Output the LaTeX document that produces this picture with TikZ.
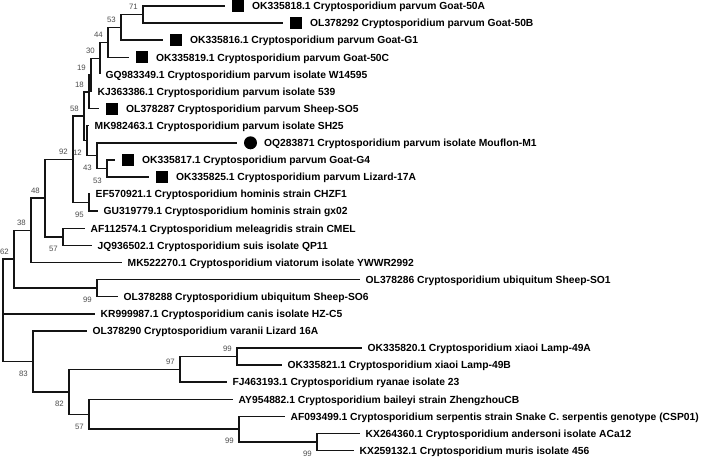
\documentclass[tikz,border=0pt]{standalone}
\usepackage{fontspec}
\setmainfont{Liberation Sans}
\begin{document}
\begin{tikzpicture}[x=1pt,y=-1pt,
  br/.style={line width=1.5pt, draw=black!92},
  lab/.style={font=\bfseries\fontsize{10.3}{12}\selectfont, anchor=base west, inner sep=0pt, yshift=-3.7pt},
  txt/.style={lab, xshift=5.5pt},
  txtm/.style={lab, xshift=27pt},
  bs/.style={font=\fontsize{7.8}{9}\selectfont, text=black!70, inner sep=0pt, anchor=base east, xshift=-5pt},
  bsa/.style={bs, yshift=4.8pt},
  bsb/.style={bs, yshift=-14.7pt},
  sq/.style={fill=black, minimum size=12pt, inner sep=0pt, draw=none, xshift=13pt},
  dot/.style={circle, fill=black, minimum size=13pt, inner sep=0pt, draw=none, xshift=13.5pt}]
\useasboundingbox (0,0) rectangle (708,460);
% internal nodes
\coordinate (n71) at (143,14.55);
\coordinate (n53) at (121,27.4);
\coordinate (n44) at (108,42.3);
\coordinate (n30) at (100,58.4);
\coordinate (n19) at (91,74.9);
\coordinate (n18) at (89,91.8);
\coordinate (n58) at (84,116.2);
\coordinate (n12) at (87,140.7);
\coordinate (n43) at (97,155.6);
\coordinate (n53b) at (107,168.5);
\coordinate (n92) at (73,159.4);
\coordinate (n95) at (89,202.7);
\coordinate (n57) at (63,236.9);
\coordinate (n48) at (45,198.1);
\coordinate (n38) at (31,230.3);
\coordinate (n99u) at (97,288.2);
\coordinate (n62) at (14,259.2);
\coordinate (root) at (3,310.3);
\coordinate (n83) at (33,361.4);
\coordinate (n82) at (69,391.8);
\coordinate (n97) at (180,369.4);
\coordinate (n99x) at (237,356.6);
\coordinate (n57b) at (89,414.3);
\coordinate (n99s) at (239,429.2);
\coordinate (n99am) at (317,442);
% leaves
\coordinate (l1) at (225,6);
\coordinate (l2) at (283,23.1);
\coordinate (l3) at (163,40.2);
\coordinate (l4) at (129,57.3);
\coordinate (l5) at (100,74.4);
\coordinate (l6) at (92,91.5);
\coordinate (l7) at (99,108.6);
\coordinate (l8) at (89,125.7);
\coordinate (l9) at (237,142.8);
\coordinate (l10) at (115,159.9);
\coordinate (l11) at (149,177);
\coordinate (l12) at (90,194.1);
\coordinate (l13) at (98,211.2);
\coordinate (l14) at (85,228.3);
\coordinate (l15) at (92,245.4);
\coordinate (l16) at (122,262.5);
\coordinate (l17) at (360,279.6);
\coordinate (l18) at (118,296.7);
\coordinate (l19) at (95,313.8);
\coordinate (l20) at (87,330.9);
\coordinate (l21) at (362,348);
\coordinate (l22) at (282,365.1);
\coordinate (l23) at (227,382.2);
\coordinate (l24) at (233,399.3);
\coordinate (l25) at (285,416.4);
\coordinate (l26) at (360,433.5);
\coordinate (l27) at (354,450.6);
% branches
\draw[br] (n71) |- (l1);
\draw[br] (n71) |- (l2);
\draw[br] (n53) |- (n71);
\draw[br] (n53) |- (l3);
\draw[br] (n44) |- (n53);
\draw[br] (n44) |- (l4);
\draw[br] (n30) |- (n44);
\draw[br] (n30) |- (l5);
\draw[br] (n19) |- (n30);
\draw[br] (n19) |- (l6);
\draw[br] (n18) |- (n19);
\draw[br] (n18) |- (l7);
\draw[br] (n58) |- (n18);
\draw[br] (n58) |- (n12);
\draw[br] (n12) |- (l8);
\draw[br] (n12) |- (n43);
\draw[br] (n43) |- (l9);
\draw[br] (n43) |- (n53b);
\draw[br] (n53b) |- (l10);
\draw[br] (n53b) |- (l11);
\draw[br] (n92) |- (n58);
\draw[br] (n92) |- (n95);
\draw[br] (n95) |- (l12);
\draw[br] (n95) |- (l13);
\draw[br] (n48) |- (n92);
\draw[br] (n48) |- (n57);
\draw[br] (n57) |- (l14);
\draw[br] (n57) |- (l15);
\draw[br] (n38) |- (n48);
\draw[br] (n38) |- (l16);
\draw[br] (n62) |- (n38);
\draw[br] (n62) |- (n99u);
\draw[br] (n99u) |- (l17);
\draw[br] (n99u) |- (l18);
\draw[br] (root) |- (n62);
\draw[br] (root) |- (l19);
\draw[br] (root) |- (n83);
\draw[br] (n83) |- (l20);
\draw[br] (n83) |- (n82);
\draw[br] (n82) |- (n97);
\draw[br] (n82) |- (n57b);
\draw[br] (n97) |- (n99x);
\draw[br] (n97) |- (l23);
\draw[br] (n99x) |- (l21);
\draw[br] (n99x) |- (l22);
\draw[br] (n57b) |- (l24);
\draw[br] (n57b) |- (n99s);
\draw[br] (n99s) |- (l25);
\draw[br] (n99s) |- (n99am);
\draw[br] (n99am) |- (l26);
\draw[br] (n99am) |- (l27);
% markers
\node[sq] (m1) at (l1) {};
\node[sq] (m2) at (l2) {};
\node[sq] (m3) at (l3) {};
\node[sq] (m4) at (l4) {};
\node[sq] (m7) at (l7) {};
\node[dot] (m9) at (l9) {};
\node[sq] (m10) at (l10) {};
\node[sq] (m11) at (l11) {};
% leaf labels
\node[txtm] (t1) at (l1) {OK335818.1 Cryptosporidium parvum Goat-50A};
\node[txtm] (t2) at (l2) {OL378292 Cryptosporidium parvum Goat-50B};
\node[txtm] (t3) at (l3) {OK335816.1 Cryptosporidium parvum Goat-G1};
\node[txtm] (t4) at (l4) {OK335819.1 Cryptosporidium parvum Goat-50C};
\node[txt] (t5) at (l5) {GQ983349.1 Cryptosporidium parvum isolate W14595};
\node[txt] (t6) at (l6) {KJ363386.1 Cryptosporidium parvum isolate 539};
\node[txtm] (t7) at (l7) {OL378287 Cryptosporidium parvum Sheep-SO5};
\node[txt] (t8) at (l8) {MK982463.1 Cryptosporidium parvum isolate SH25};
\node[txtm] (t9) at (l9) {OQ283871 Cryptosporidium parvum isolate Mouflon-M1};
\node[txtm] (t10) at (l10) {OK335817.1 Cryptosporidium parvum Goat-G4};
\node[txtm] (t11) at (l11) {OK335825.1 Cryptosporidium parvum Lizard-17A};
\node[txt] (t12) at (l12) {EF570921.1 Cryptosporidium hominis strain CHZF1};
\node[txt] (t13) at (l13) {GU319779.1 Cryptosporidium hominis strain gx02};
\node[txt] (t14) at (l14) {AF112574.1 Cryptosporidium meleagridis strain CMEL};
\node[txt] (t15) at (l15) {JQ936502.1 Cryptosporidium suis isolate QP11};
\node[txt] (t16) at (l16) {MK522270.1 Cryptosporidium viatorum isolate YWWR2992};
\node[txt] (t17) at (l17) {OL378286 Cryptosporidium ubiquitum Sheep-SO1};
\node[txt] (t18) at (l18) {OL378288 Cryptosporidium ubiquitum Sheep-SO6};
\node[txt] (t19) at (l19) {KR999987.1 Cryptosporidium canis isolate HZ-C5};
\node[txt] (t20) at (l20) {OL378290 Cryptosporidium varanii Lizard 16A};
\node[txt] (t21) at (l21) {OK335820.1 Cryptosporidium xiaoi Lamp-49A};
\node[txt] (t22) at (l22) {OK335821.1 Cryptosporidium xiaoi Lamp-49B};
\node[txt] (t23) at (l23) {FJ463193.1 Cryptosporidium ryanae isolate 23};
\node[txt] (t24) at (l24) {AY954882.1 Cryptosporidium baileyi strain ZhengzhouCB};
\node[txt] (t25) at (l25) {AF093499.1 Cryptosporidium serpentis strain Snake C. serpentis genotype (CSP01)};
\node[txt] (t26) at (l26) {KX264360.1 Cryptosporidium andersoni isolate ACa12};
\node[txt] (t27) at (l27) {KX259132.1 Cryptosporidium muris isolate 456};
% bootstrap values
\node[bsa] (b71) at (n71) {71};
\node[bsa] (b53) at (n53) {53};
\node[bsa] (b44) at (n44) {44};
\node[bsa] (b30) at (n30) {30};
\node[bsa] (b19) at (n19) {19};
\node[bsa] (b18) at (n18) {18};
\node[bsa] (b58) at (n58) {58};
\node[bsb] (b12) at (n12) {12};
\node[bsb] (b43) at (n43) {43};
\node[bsb] (b53b) at (n53b) {53};
\node[bsa] (b92) at (n92) {92};
\node[bsb] (b95) at (n95) {95};
\node[bsa] (b48) at (n48) {48};
\node[bsb] (b57) at (n57) {57};
\node[bsa] (b38) at (n38) {38};
\node[bsa] (b62) at (n62) {62};
\node[bsb] (b99u) at (n99u) {99};
\node[bsb] (b83) at (n83) {83};
\node[bsb] (b82) at (n82) {82};
\node[bsa] (b97) at (n97) {97};
\node[bsa] (b99x) at (n99x) {99};
\node[bsb] (b57b) at (n57b) {57};
\node[bsb] (b99s) at (n99s) {99};
\node[bsb] (b99am) at (n99am) {99};
\end{tikzpicture}
\end{document}
